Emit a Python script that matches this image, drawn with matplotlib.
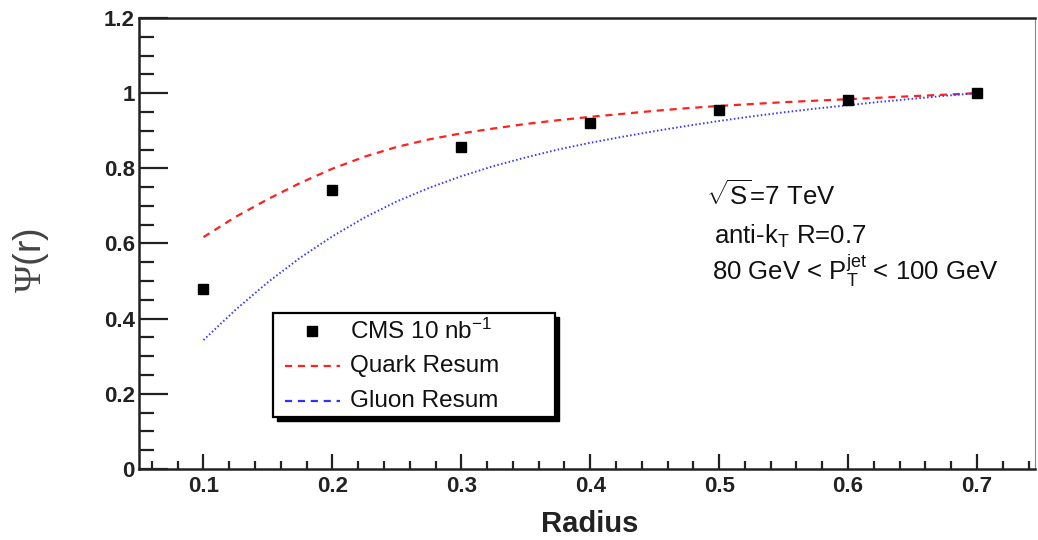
import matplotlib
matplotlib.use("Agg")
import matplotlib.pyplot as plt
from matplotlib.patches import Rectangle
from matplotlib.lines import Line2D
from matplotlib.ticker import MultipleLocator, FixedLocator, FixedFormatter

# CMS measurement of the integrated jet shape
radius_data = [0.1, 0.2, 0.3, 0.4, 0.5, 0.6, 0.7]
psi_cms = [0.478, 0.742, 0.856, 0.920, 0.955, 0.981, 1.000]

# resummed predictions sampled along r
radius_curve = [0.100, 0.125, 0.150, 0.175, 0.200, 0.225, 0.250, 0.275, 0.300,
                0.325, 0.350, 0.375, 0.400, 0.425, 0.450, 0.475, 0.500, 0.525,
                0.550, 0.575, 0.600, 0.625, 0.650, 0.675, 0.700]
psi_quark = [0.617, 0.671, 0.718, 0.761, 0.799, 0.831, 0.857, 0.877, 0.893,
             0.906, 0.918, 0.928, 0.937, 0.945, 0.953, 0.960, 0.966, 0.971,
             0.976, 0.980, 0.984, 0.988, 0.992, 0.996, 1.000]
psi_gluon = [0.343, 0.424, 0.497, 0.562, 0.619, 0.669, 0.712, 0.748, 0.779,
             0.806, 0.829, 0.850, 0.868, 0.884, 0.899, 0.913, 0.926, 0.938,
             0.949, 0.959, 0.968, 0.977, 0.985, 0.993, 1.000]

x_ticks = [0.1, 0.2, 0.3, 0.4, 0.5, 0.6, 0.7]
x_tick_labels = ["0.1", "0.2", "0.3", "0.4", "0.5", "0.6", "0.7"]
y_ticks = [0.0, 0.2, 0.4, 0.6, 0.8, 1.0, 1.2]
y_tick_labels = ["0", "0.2", "0.4", "0.6", "0.8", "1", "1.2"]

legend_labels = ["CMS 10 nb$^{\\mathregular{-1}}$", "Quark Resum", "Gluon Resum"]

plt.rcParams["font.family"] = ["Liberation Sans", "DejaVu Sans"]
plt.rcParams["mathtext.fontset"] = "custom"
plt.rcParams["mathtext.rm"] = "Liberation Serif"
plt.rcParams["mathtext.it"] = "Liberation Sans:italic"
plt.rcParams["mathtext.bf"] = "Liberation Sans:bold"

W, H = 1038, 540
fig = plt.figure(figsize=(W / 100, H / 100), dpi=100)
ax_l, ax_r, ax_t, ax_b = 139, 1035, 18, 469
ax = fig.add_axes([ax_l / W, 1 - ax_b / H, (ax_r - ax_l) / W, (ax_b - ax_t) / H])

ax.plot(radius_curve, psi_quark, color="#ff2020", lw=1.6, ls=(0, (3.2, 2.6)), zorder=2)
ax.plot(radius_curve, psi_gluon, color="#3a3aff", lw=1.4, ls=(0, (0.8, 1.2)), zorder=2)
ax.plot(radius_data, psi_cms, ls="none", marker="s", ms=6.5, color="black", zorder=3)

ax.set_xlim(0.05, 0.745)
ax.set_ylim(0, 1.2)

ax.xaxis.set_major_locator(FixedLocator(x_ticks))
ax.xaxis.set_major_formatter(FixedFormatter(x_tick_labels))
ax.yaxis.set_major_locator(FixedLocator(y_ticks))
ax.yaxis.set_major_formatter(FixedFormatter(y_tick_labels))
ax.xaxis.set_minor_locator(MultipleLocator(0.02))
ax.yaxis.set_minor_locator(MultipleLocator(0.05))

ax.tick_params(axis="both", which="both", direction="in", top=False, right=False,
               width=1.6, color="#222222")
ax.tick_params(axis="x", which="major", length=11, pad=5)
ax.tick_params(axis="x", which="minor", length=5.5)
ax.tick_params(axis="y", which="major", length=21, pad=3)
ax.tick_params(axis="y", which="minor", length=11)
for lab in ax.get_xticklabels() + ax.get_yticklabels():
    lab.set_fontweight("bold")
    lab.set_fontsize(16)
    lab.set_color("#222222")

for side in ("left", "bottom", "top"):
    ax.spines[side].set_linewidth(1.8)
    ax.spines[side].set_color("#222222")
ax.spines["right"].set_linewidth(0.8)
ax.spines["right"].set_color("#888888")

def fx(px):
    return (px - ax_l) / (ax_r - ax_l)

def fy(py):
    return (ax_b - py) / (ax_b - ax_t)

ax.set_xlabel("Radius", fontsize=21, fontweight="bold", color="#222222")
ax.xaxis.label.set_va("center")
ax.xaxis.set_label_coords(fx(590), fy(524))
ax.set_ylabel(r"$\Psi$(r)", fontsize=27, color="#444444")
ax.yaxis.label.set_va("center")
ax.yaxis.set_label_coords(fx(31), fy(261))

# kinematic selection
info_kw = dict(transform=ax.transAxes, fontsize=18.5, va="center", ha="left",
               color="#111111")
ax.text(fx(706), fy(195), r"$\sqrt{\mathregular{S}}$=7 TeV", **info_kw)
ax.text(fx(714), fy(236), r"anti-k$_{\mathregular{T}}$ R=0.7", **info_kw)
ax.text(fx(712), fy(271),
        r"80 GeV < P$_{\mathregular{T}}^{\mathregular{jet}}$ < 100 GeV", **info_kw)

# legend box with drop shadow
bx0, bx1, by0, by1 = 273, 555, 313, 417
sh = 4
ax.add_patch(Rectangle((fx(bx0 + sh), fy(by1 + sh)), fx(bx1) - fx(bx0),
                       fy(by0) - fy(by1), transform=ax.transAxes,
                       facecolor="black", edgecolor="black", zorder=5))
ax.add_patch(Rectangle((fx(bx0), fy(by1)), fx(bx1) - fx(bx0), fy(by0) - fy(by1),
                       transform=ax.transAxes, facecolor="white",
                       edgecolor="black", lw=1.6, zorder=6))
rows = [331, 366, 401]
handles = [
    dict(ls="none", marker="s", ms=6.5, color="black"),
    dict(ls=(0, (3.2, 2.6)), lw=1.6, color="#ff2020"),
    dict(ls=(0, (3.2, 2.6)), lw=1.6, color="#3030ff"),
]
for row, label, style in zip(rows, legend_labels, handles):
    if style.get("marker"):
        ax.add_line(Line2D([fx(312)], [fy(row)], transform=ax.transAxes,
                           zorder=7, **style))
    else:
        ax.add_line(Line2D([fx(285), fx(340)], [fy(row), fy(row)],
                           transform=ax.transAxes, zorder=7, **style))
    ax.text(fx(350), fy(row), label, transform=ax.transAxes, fontsize=17.5,
            va="center", ha="left", color="#111111", zorder=8)

fig.savefig("out.png", dpi=100)
